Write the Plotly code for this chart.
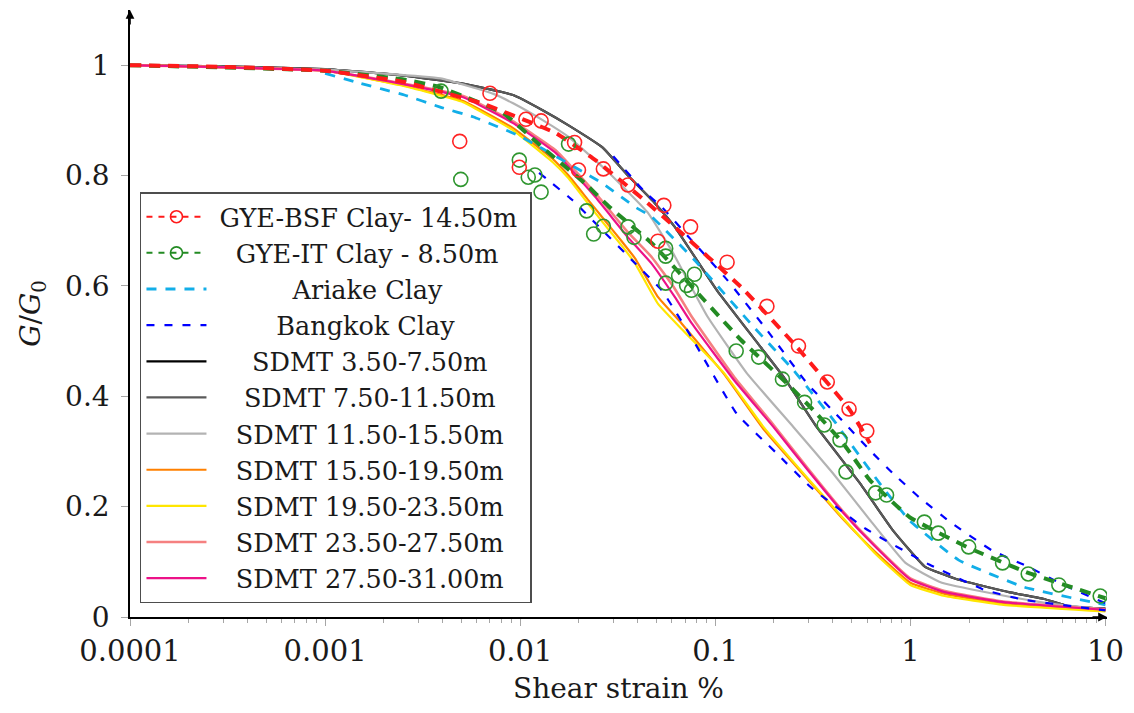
import plotly.graph_objects as go

# ---------------- data ----------------
# GYE-BSF Clay (14.50 m): measured points and fitted curve
bsf_x = [0.0049, 0.0070, 0.0099, 0.0107, 0.0128, 0.0190, 0.0199, 0.0267, 0.0357,
         0.0508, 0.0545, 0.0747, 0.115, 0.184, 0.267, 0.375, 0.485, 0.598]
bsf_y = [0.862, 0.949, 0.815, 0.902, 0.899, 0.860, 0.810, 0.812, 0.783,
         0.681, 0.746, 0.707, 0.643, 0.563, 0.491, 0.426, 0.377, 0.337]
bsf_fit_x = [1e-4, 3e-4, 1e-3, 0.0025, 0.00634, 0.0152, 0.0243, 0.0421, 0.0619,
             0.1355, 0.252, 0.49, 0.62]
bsf_fit_y = [1.0, 0.997, 0.99, 0.97, 0.931, 0.877, 0.828, 0.759, 0.707,
             0.598, 0.496, 0.375, 0.315]

# GYE-IT Clay (8.50 m): measured points and fitted curve
it_x = [0.00393, 0.00496, 0.0099, 0.0110, 0.0119, 0.0128, 0.0177, 0.0219, 0.0238,
        0.0267, 0.0357, 0.0383, 0.0557, 0.0557, 0.0557, 0.0649, 0.0713, 0.0755,
        0.0782, 0.128, 0.167, 0.221, 0.287, 0.362, 0.436, 0.468, 0.664, 0.755,
        1.18, 1.39, 1.99, 2.97, 4.02, 5.77, 9.4]
it_y = [0.953, 0.793, 0.828, 0.797, 0.801, 0.770, 0.857, 0.736, 0.694,
        0.708, 0.707, 0.688, 0.668, 0.654, 0.605, 0.618, 0.601, 0.592,
        0.621, 0.482, 0.471, 0.431, 0.389, 0.348, 0.321, 0.263, 0.225, 0.221,
        0.172, 0.152, 0.127, 0.098, 0.078, 0.058, 0.038]
it_fit_x = [1e-4, 1e-3, 0.00264, 0.00388, 0.0082, 0.0131, 0.0216, 0.0283, 0.048,
            0.0879, 0.1355, 0.232, 0.318, 0.452, 0.62, 0.99, 2.0, 4.02, 10]
it_fit_y = [1.0, 0.99, 0.973, 0.960, 0.913, 0.850, 0.785, 0.745, 0.675,
            0.574, 0.502, 0.424, 0.375, 0.315, 0.248, 0.181, 0.125, 0.080, 0.034]

# Ariake Clay
ariake_x = [0.001, 0.00152, 0.00255, 0.00389, 0.00577, 0.0099, 0.0121, 0.0264,
            0.0388, 0.0473, 0.0782, 0.158, 0.252, 0.416, 0.452, 0.721, 0.99,
            1.77, 3.84, 10]
ariake_y = [0.985, 0.967, 0.946, 0.924, 0.906, 0.872, 0.855, 0.786,
            0.743, 0.725, 0.647, 0.525, 0.447, 0.351, 0.333, 0.235, 0.175,
            0.103, 0.054, 0.022]

# Bangkok Clay: upper and lower bounds
bkk_up_x = [0.030, 0.0436, 0.0532, 0.0755, 0.115, 0.184, 0.293, 0.436, 0.641,
            0.81, 1.11, 1.63, 2.61, 4.02, 6.1, 10]
bkk_up_y = [0.835, 0.770, 0.743, 0.683, 0.611, 0.520, 0.425, 0.360, 0.297,
            0.261, 0.217, 0.170, 0.121, 0.091, 0.058, 0.025]
bkk_lo_x = [0.0125, 0.0186, 0.0216, 0.0264, 0.0388, 0.0532, 0.0755, 0.129,
            0.206, 0.307, 0.59, 1.25, 2.4, 3.84, 10]
bkk_lo_y = [0.805, 0.755, 0.732, 0.701, 0.641, 0.592, 0.507, 0.368,
            0.297, 0.236, 0.160, 0.095, 0.049, 0.031, 0.012]

# SDMT degradation curves by depth interval
sdmt_a_x = [1e-4, 3e-4, 1e-3, 0.0024, 0.005, 0.0092, 0.0131, 0.0177, 0.0264,
            0.0357, 0.049, 0.062, 0.102, 0.171, 0.224, 0.33, 0.55, 0.81, 1.19,
            1.75, 3.2, 4.8, 6.4, 10]
sdmt_3_50_y = [1.0, 0.998, 0.993, 0.982, 0.967, 0.946, 0.918, 0.891, 0.851,
               0.800, 0.750, 0.707, 0.592, 0.489, 0.435, 0.345, 0.243, 0.158,
               0.091, 0.068, 0.045, 0.033, 0.020, 0.015]
sdmt_7_50_y = [1.0, 0.998, 0.993, 0.982, 0.967, 0.946, 0.918, 0.891, 0.851,
               0.800, 0.750, 0.707, 0.592, 0.489, 0.435, 0.345, 0.243, 0.158,
               0.091, 0.068, 0.045, 0.033, 0.020, 0.015]

sdmt_b_x = [1e-4, 1e-3, 0.0039, 0.0073, 0.0092, 0.0131, 0.0177, 0.0283, 0.0453,
            0.0598, 0.091, 0.145, 0.252, 0.40, 0.62, 0.944, 1.45, 2.6, 5.0, 10]
sdmt_11_50_y = [1.0, 0.992, 0.976, 0.948, 0.931, 0.900, 0.870, 0.806, 0.732,
                0.664, 0.545, 0.442, 0.344, 0.261, 0.176, 0.098, 0.062, 0.043,
                0.025, 0.013]

sdmt_c_x = [1e-4, 1e-3, 0.0024, 0.0051, 0.0092, 0.0147, 0.0177, 0.0224, 0.0264,
            0.0333, 0.0388, 0.0508, 0.0672, 0.111, 0.177, 0.30, 0.45, 0.66, 1.0,
            1.5, 3.0, 10]
sdmt_15_50_y = [1.0, 0.99, 0.965, 0.935, 0.886, 0.830, 0.800, 0.755, 0.724,
                0.680, 0.650, 0.580, 0.532, 0.440, 0.340, 0.248, 0.178, 0.118,
                0.062, 0.042, 0.024, 0.011]
sdmt_19_50_y = [1.0, 0.99, 0.964, 0.933, 0.882, 0.824, 0.795, 0.748, 0.716,
                0.672, 0.641, 0.568, 0.522, 0.442, 0.344, 0.250, 0.180, 0.115,
                0.058, 0.038, 0.022, 0.010]

sdmt_d_x = [1e-4, 1e-3, 0.0024, 0.0051, 0.0092, 0.0152, 0.0243, 0.0357, 0.0473,
            0.062, 0.0755, 0.125, 0.199, 0.30, 0.45, 0.65, 1.0, 1.5, 3.0, 10]
sdmt_23_50_y = [1.0, 0.99, 0.968, 0.944, 0.898, 0.846, 0.768, 0.697, 0.652,
                0.595, 0.545, 0.435, 0.348, 0.268, 0.192, 0.132, 0.070, 0.047,
                0.028, 0.014]
sdmt_27_50_y = [1.0, 0.99, 0.967, 0.942, 0.895, 0.841, 0.761, 0.688, 0.640,
                0.580, 0.533, 0.429, 0.344, 0.265, 0.190, 0.130, 0.068, 0.045,
                0.027, 0.013]

x_tick_vals = [1e-4, 1e-3, 1e-2, 1e-1, 1, 10]
x_tick_text = ["0.0001", "0.001", "0.01", "0.1", "1", "10"]
y_tick_vals = [0, 0.2, 0.4, 0.6, 0.8, 1.0]
y_tick_text = ["0", "0.2", "0.4", "0.6", "0.8", "1"]

# ---------------- styling ----------------
FONT = "DejaVu Serif"
RED = "#ff1a1a"
GREEN = "#238b23"
CYAN = "#12aee8"
BLUE = "#0000ff"
NB = "\u00a0"
SMOOTH = 0.35

fig = go.Figure()


def solid(x, y, color, name, rank, width=2.2):
    fig.add_trace(go.Scatter(
        x=x, y=y, mode="lines", name=name, legendrank=rank,
        line=dict(color=color, width=width, shape="spline", smoothing=SMOOTH)))


# SDMT curves (black lies beneath the dark-grey one)
solid(sdmt_a_x, sdmt_3_50_y, "#000000", NB * 5 + "SDMT 3.50-7.50m", 5)
solid(sdmt_a_x, sdmt_7_50_y, "#5a5a5a", NB * 4 + "SDMT 7.50-11.50m", 6)
solid(sdmt_b_x, sdmt_11_50_y, "#b3b3b3", NB * 3 + "SDMT 11.50-15.50m", 7)
solid(sdmt_c_x, sdmt_15_50_y, "#ff8000", NB * 3 + "SDMT 15.50-19.50m", 8)
solid(sdmt_c_x, sdmt_19_50_y, "#ffe600", NB * 3 + "SDMT 19.50-23.50m", 9)
solid(sdmt_d_x, sdmt_23_50_y, "#f58080", NB * 3 + "SDMT 23.50-27.50m", 10, width=2.6)
solid(sdmt_d_x, sdmt_27_50_y, "#ec1288", NB * 3 + "SDMT 27.50-31.00m", 11)

# Reference clays
fig.add_trace(go.Scatter(
    x=ariake_x, y=ariake_y, mode="lines", name=NB * 10 + "Ariake Clay", legendrank=3,
    line=dict(color=CYAN, width=2.8, dash="10px,9px", shape="spline", smoothing=SMOOTH)))
fig.add_trace(go.Scatter(
    x=bkk_up_x, y=bkk_up_y, mode="lines", name=NB * 8 + "Bangkok Clay", legendrank=4,
    legendgroup="bkk",
    line=dict(color=BLUE, width=2.2, dash="8px,10px", shape="spline", smoothing=SMOOTH)))
fig.add_trace(go.Scatter(
    x=bkk_lo_x, y=bkk_lo_y, mode="lines", showlegend=False, legendgroup="bkk",
    line=dict(color=BLUE, width=2.2, dash="8px,10px", shape="spline", smoothing=SMOOTH)))

# Fitted curves for the site clays
fig.add_trace(go.Scatter(
    x=it_fit_x, y=it_fit_y, mode="lines", showlegend=False, legendgroup="it",
    line=dict(color=GREEN, width=4, dash="11px,8px", shape="spline", smoothing=SMOOTH)))
fig.add_trace(go.Scatter(
    x=bsf_fit_x, y=bsf_fit_y, mode="lines", showlegend=False, legendgroup="bsf",
    line=dict(color=RED, width=4, dash="11px,8px", shape="spline", smoothing=SMOOTH)))

# Measured points
fig.add_trace(go.Scatter(
    x=it_x, y=it_y, mode="markers", showlegend=False, legendgroup="it",
    marker=dict(symbol="circle-open", size=14, color="#2f962f", line=dict(width=1.6))))
fig.add_trace(go.Scatter(
    x=bsf_x, y=bsf_y, mode="markers", showlegend=False, legendgroup="bsf",
    marker=dict(symbol="circle-open", size=14, color="#ff2424", line=dict(width=1.6))))

# Legend entries combining dashed fit + circle marker
fig.add_trace(go.Scatter(
    x=[None], y=[None], mode="lines+markers", name=NB + "GYE-BSF Clay- 14.50m" + NB,
    legendrank=1, legendgroup="bsf",
    line=dict(color=RED, width=2, dash="6px,6px"),
    marker=dict(symbol="circle-open", size=12, color=RED, line=dict(width=1.6))))
fig.add_trace(go.Scatter(
    x=[None], y=[None], mode="lines+markers", name=NB * 3 + "GYE-IT Clay - 8.50m",
    legendrank=2, legendgroup="it",
    line=dict(color=GREEN, width=2, dash="6px,6px"),
    marker=dict(symbol="circle-open", size=12, color=GREEN, line=dict(width=1.6))))

X_RANGE = [-4, 1.008]
Y_RANGE = [0, 1.1]
TICK_COLOR = "#a6a6a6"
minor_x = [m * 10 ** e for e in range(-4, 1) for m in range(2, 10)]

fig.update_layout(
    width=1134, height=713,
    margin=dict(l=130, r=19, t=10, b=96),
    paper_bgcolor="white", plot_bgcolor="white",
    font=dict(family=FONT, size=28, color="#1a1a1a"),
    showlegend=True,
    legend=dict(
        x=0.0102, y=0.700, xanchor="left", yanchor="top",
        bgcolor="white", bordercolor="#4d4d4d", borderwidth=1.5,
        font=dict(family=FONT, size=25.5, color="#1a1a1a"),
        itemwidth=60, tracegroupgap=0, traceorder="normal",
        groupclick="toggleitem",
    ),
    xaxis=dict(
        type="log", range=X_RANGE,
        showline=True, linecolor="black", linewidth=1.6,
        showgrid=False, zeroline=False,
        tickmode="array", tickvals=x_tick_vals, ticktext=x_tick_text,
        ticks="outside", ticklen=7, tickwidth=1, tickcolor=TICK_COLOR,
        minor=dict(tickmode="array", tickvals=minor_x, ticks="outside",
                   ticklen=4, tickwidth=1, tickcolor=TICK_COLOR),
        tickfont=dict(family=FONT, size=29, color="#1a1a1a"),
        ticklabelstandoff=0,
        title=dict(text="Shear strain %", font=dict(family=FONT, size=28),
                   standoff=12),
    ),
    yaxis=dict(
        range=Y_RANGE,
        showline=True, linecolor="black", linewidth=1.6,
        showgrid=False, zeroline=False,
        tickmode="array", tickvals=y_tick_vals, ticktext=y_tick_text,
        ticks="outside", ticklen=7, tickwidth=1, tickcolor=TICK_COLOR,
        tickfont=dict(family=FONT, size=28, color="#1a1a1a"),
        ticklabelstandoff=6,
        title=dict(text="<i>G</i>/<i>G</i><sub>0</sub>",
                   font=dict(family=FONT, size=28), standoff=16),
    ),
    # companion axes carry the inner half of each tick
    xaxis2=dict(
        type="log", range=X_RANGE, overlaying="x", anchor="y", side="bottom",
        showline=False, showgrid=False, zeroline=False, showticklabels=False,
        tickmode="array", tickvals=x_tick_vals,
        ticks="inside", ticklen=7, tickwidth=1, tickcolor=TICK_COLOR,
        minor=dict(tickmode="array", tickvals=minor_x, ticks="inside",
                   ticklen=4, tickwidth=1, tickcolor=TICK_COLOR),
    ),
    yaxis2=dict(
        range=Y_RANGE, overlaying="y", anchor="x", side="left",
        showline=False, showgrid=False, zeroline=False, showticklabels=False,
        tickmode="array", tickvals=y_tick_vals,
        ticks="inside", ticklen=7, tickwidth=1, tickcolor=TICK_COLOR,
    ),
    annotations=[
        dict(x=1, y=0, xref="paper", yref="paper", ax=-16, ay=0,
             axref="pixel", ayref="pixel", text="", showarrow=True,
             arrowhead=2, arrowsize=1.1, arrowwidth=1.6, arrowcolor="black"),
        dict(x=0, y=1, xref="paper", yref="paper", ax=0, ay=16,
             axref="pixel", ayref="pixel", text="", showarrow=True,
             arrowhead=2, arrowsize=1.1, arrowwidth=1.6, arrowcolor="black"),
    ],
)

fig.write_html("out.html")
